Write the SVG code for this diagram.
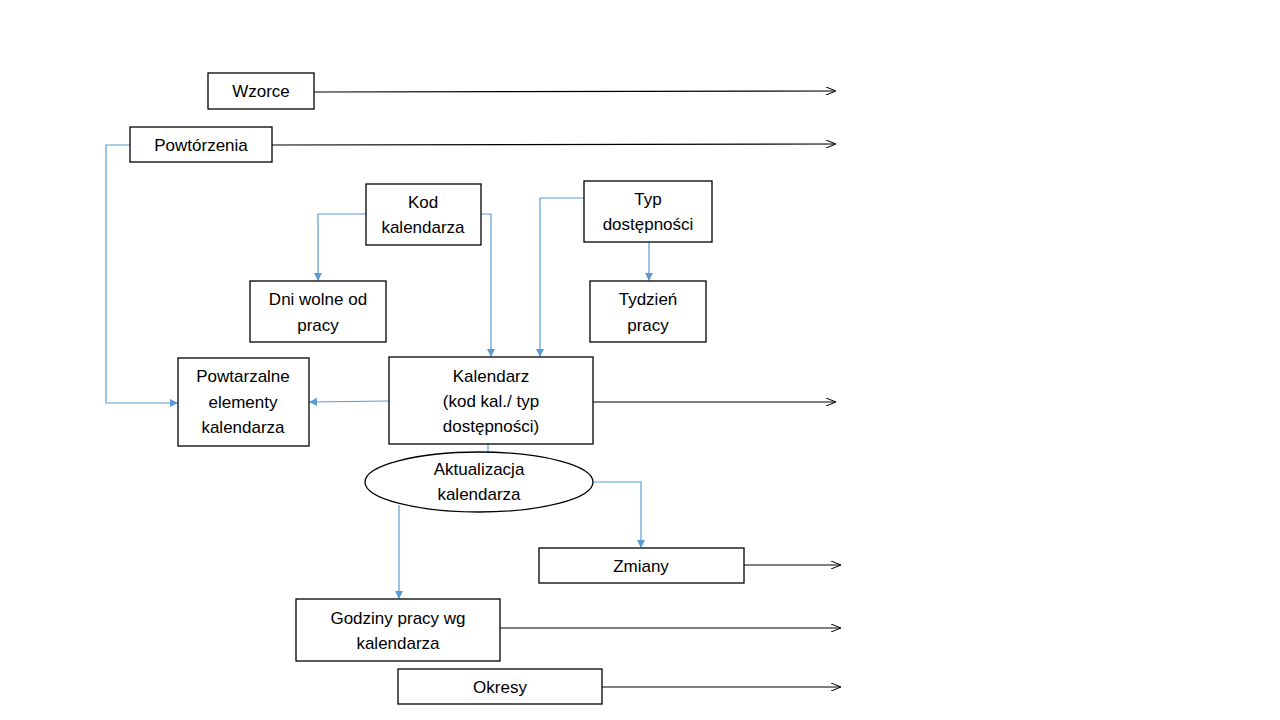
<svg xmlns="http://www.w3.org/2000/svg" width="1280" height="720" viewBox="0 0 1280 720">
<defs>
<marker id="ab" markerWidth="10" markerHeight="8" refX="9" refY="4" orient="auto" markerUnits="userSpaceOnUse"><path d="M0,0 L10,4 L0,8" fill="none" stroke="#000" stroke-width="1"/></marker>
<marker id="bl" markerWidth="8" markerHeight="8" refX="7" refY="4" orient="auto" markerUnits="userSpaceOnUse"><path d="M0,0 L8,4 L0,8 Z" fill="#5B9BD5"/></marker>
</defs>
<style>
.n{fill:#fff;stroke:#000;stroke-width:1.3}
text{font-family:"Liberation Sans",Arial,sans-serif;font-size:17px;fill:#000;text-anchor:middle}
.k{fill:none;stroke:#000;stroke-width:1.2;marker-end:url(#ab)}
.b{fill:none;stroke:#5B9BD5;stroke-width:1.2;marker-end:url(#bl)}
</style>
<rect width="1280" height="720" fill="#fff"/>
<g id="connectors">
<path class="k" d="M314,92 L835,91"/>
<path class="k" d="M272,145 L835,144"/>
<path class="k" d="M593,402 L835,402"/>
<path class="k" d="M744,565 L840,565"/>
<path class="k" d="M500,628 L840,628"/>
<path class="k" d="M602,687 L840,687"/>
<path class="b" d="M130,145 H106 V403 H177"/>
<path class="b" d="M366,214 H318 V280"/>
<path class="b" d="M481,214 H491 V356"/>
<path class="b" d="M584,198 H540 V356"/>
<path class="b" d="M649,242 V280"/>
<path class="b" d="M389,401 L310,402"/>
<path class="b" d="M488,452 V437"/>
<path class="b" d="M593,482 H641 V547"/>
<path class="b" d="M399,505 V598"/>
</g>
<g id="wzorce"><rect class="n" x="208" y="73" width="106" height="36"/><text x="261" y="97">Wzorce</text></g>
<g id="powtorzenia"><rect class="n" x="130" y="127" width="142" height="35"/><text x="201" y="151">Powtórzenia</text></g>
<g id="kod"><rect class="n" x="366" y="184" width="115" height="61"/><text x="423" y="208">Kod</text><text x="423" y="233">kalendarza</text></g>
<g id="typ"><rect class="n" x="584" y="181" width="128" height="61"/><text x="648" y="205">Typ</text><text x="648" y="230">dostępności</text></g>
<g id="dni"><rect class="n" x="250" y="281" width="136" height="61"/><text x="318" y="305">Dni wolne od</text><text x="318" y="331">pracy</text></g>
<g id="tydzien"><rect class="n" x="590" y="281" width="116" height="61"/><text x="648" y="305">Tydzień</text><text x="648" y="331">pracy</text></g>
<g id="powtarzalne"><rect class="n" x="178" y="358" width="131" height="88"/><text x="243" y="382">Powtarzalne</text><text x="243" y="408">elementy</text><text x="243" y="433">kalendarza</text></g>
<g id="kalendarz"><rect class="n" x="389" y="357" width="204" height="87"/><text x="491" y="382">Kalendarz</text><text x="491" y="407">(kod kal./ typ</text><text x="491" y="432">dostępności)</text></g>
<g id="aktualizacja"><ellipse class="n" cx="479" cy="482" rx="114" ry="30"/><text x="479" y="475">Aktualizacja</text><text x="479" y="500">kalendarza</text></g>
<g id="zmiany"><rect class="n" x="539" y="548" width="205" height="35"/><text x="641" y="572">Zmiany</text></g>
<g id="godziny"><rect class="n" x="296" y="599" width="204" height="62"/><text x="398" y="624">Godziny pracy wg</text><text x="398" y="649">kalendarza</text></g>
<g id="okresy"><rect class="n" x="398" y="669" width="204" height="35"/><text x="500" y="693">Okresy</text></g>
</svg>
